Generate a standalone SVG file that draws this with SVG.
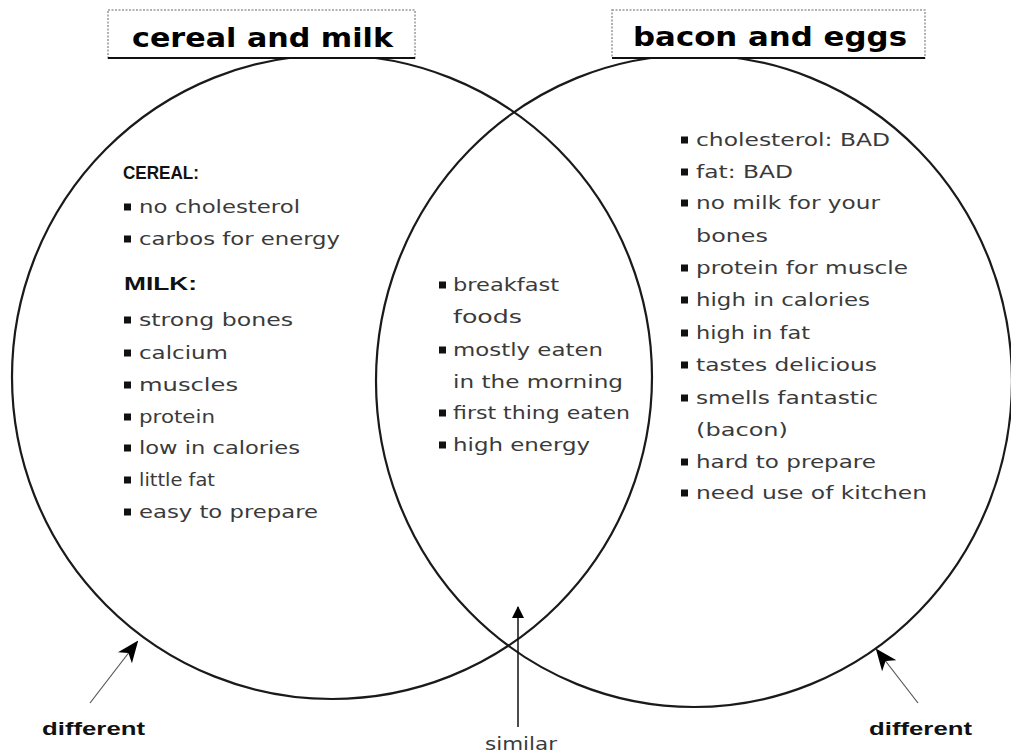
<svg xmlns="http://www.w3.org/2000/svg" width="1011" height="754" viewBox="0 0 1011 754">
<style>
.ring{fill:none;stroke:#1a1a1a;stroke-width:2.2}
.tbox{fill:#fff;stroke:#999;stroke-width:1.5;stroke-dasharray:2 1.5}
.tline{stroke:#111;stroke-width:2}
.title{font-family:"DejaVu Sans","Liberation Sans",sans-serif;font-weight:bold;font-size:27px;fill:#000}
.item{font-family:"DejaVu Sans","Liberation Sans",sans-serif;font-size:17px;fill:#3a3a3a}
.head{font-family:"Liberation Sans","DejaVu Sans",sans-serif;font-weight:bold;font-size:18px;fill:#111}
.b{fill:#111}
.conn{stroke:#555;stroke-width:1.2;fill:none}
.conn2{stroke:#111;stroke-width:1.5;fill:none}
</style>
<defs>
<marker id="big" markerWidth="22" markerHeight="18" refX="20" refY="9" orient="auto" markerUnits="userSpaceOnUse">
<path d="M0,0 L22,9 L0,18 L6,9 z" fill="#000"/>
</marker>
<marker id="small" markerWidth="12" markerHeight="12" refX="11" refY="6" orient="auto" markerUnits="userSpaceOnUse">
<path d="M0,0 L12,6 L0,12 z" fill="#000"/>
</marker>
</defs>
<rect width="1011" height="754" fill="#fff"/>
<g id="circle-left"><ellipse class="ring" cx="332" cy="377" rx="320" ry="322"/></g>
<g id="circle-right"><ellipse class="ring" cx="694" cy="381" rx="318" ry="326"/></g>
<g id="title-left">
<rect class="tbox" x="108" y="10" width="307" height="48"/>
<line class="tline" x1="108" y1="58" x2="415" y2="58"/>
<text class="title" x="132" y="47" textLength="261" lengthAdjust="spacingAndGlyphs">cereal and milk</text>
</g>
<g id="title-right">
<rect class="tbox" x="612" y="10" width="313" height="48"/>
<line class="tline" x1="612" y1="58" x2="925" y2="58"/>
<text class="title" x="633" y="46" textLength="274" lengthAdjust="spacingAndGlyphs">bacon and eggs</text>
</g>
<g id="list-left">
<text class="head" x="123" y="179" textLength="76" lengthAdjust="spacingAndGlyphs">CEREAL:</text>
<rect class="b" x="124" y="203.5" width="7" height="7"/><text class="item" x="139" y="213" textLength="161" lengthAdjust="spacingAndGlyphs">no cholesterol</text>
<rect class="b" x="124" y="235.5" width="7" height="7"/><text class="item" x="139" y="245" textLength="201" lengthAdjust="spacingAndGlyphs">carbos for energy</text>
<text class="head" x="124" y="290" textLength="73" lengthAdjust="spacingAndGlyphs">MILK:</text>
<rect class="b" x="124" y="316.5" width="7" height="7"/><text class="item" x="139" y="326" textLength="154" lengthAdjust="spacingAndGlyphs">strong bones</text>
<rect class="b" x="124" y="349.5" width="7" height="7"/><text class="item" x="139" y="359" textLength="89" lengthAdjust="spacingAndGlyphs">calcium</text>
<rect class="b" x="124" y="381.5" width="7" height="7"/><text class="item" x="139" y="391" textLength="99" lengthAdjust="spacingAndGlyphs">muscles</text>
<rect class="b" x="124" y="413.5" width="7" height="7"/><text class="item" x="139" y="423" textLength="76" lengthAdjust="spacingAndGlyphs">protein</text>
<rect class="b" x="124" y="444.5" width="7" height="7"/><text class="item" x="139" y="454" textLength="161" lengthAdjust="spacingAndGlyphs">low in calories</text>
<rect class="b" x="124" y="476.5" width="7" height="7"/><text class="item" x="139" y="486" textLength="76" lengthAdjust="spacingAndGlyphs">little fat</text>
<rect class="b" x="124" y="508.5" width="7" height="7"/><text class="item" x="139" y="518" textLength="179" lengthAdjust="spacingAndGlyphs">easy to prepare</text>
</g>
<g id="list-middle">
<rect class="b" x="439" y="281.5" width="7" height="7"/><text class="item" x="453" y="291" textLength="106" lengthAdjust="spacingAndGlyphs">breakfast</text>
<text class="item" x="453" y="323" textLength="69" lengthAdjust="spacingAndGlyphs">foods</text>
<rect class="b" x="439" y="346.5" width="7" height="7"/><text class="item" x="453" y="356" textLength="150" lengthAdjust="spacingAndGlyphs">mostly eaten</text>
<text class="item" x="453" y="388" textLength="170" lengthAdjust="spacingAndGlyphs">in the morning</text>
<rect class="b" x="439" y="409.5" width="7" height="7"/><text class="item" x="453" y="419" textLength="177" lengthAdjust="spacingAndGlyphs">first thing eaten</text>
<rect class="b" x="439" y="441.5" width="7" height="7"/><text class="item" x="453" y="451" textLength="137" lengthAdjust="spacingAndGlyphs">high energy</text>
</g>
<g id="list-right">
<rect class="b" x="681" y="136.5" width="7" height="7"/><text class="item" x="696" y="146" textLength="194" lengthAdjust="spacingAndGlyphs">cholesterol: BAD</text>
<rect class="b" x="681" y="168.5" width="7" height="7"/><text class="item" x="696" y="178" textLength="97" lengthAdjust="spacingAndGlyphs">fat: BAD</text>
<rect class="b" x="681" y="199.5" width="7" height="7"/><text class="item" x="696" y="209" textLength="184" lengthAdjust="spacingAndGlyphs">no milk for your</text>
<text class="item" x="696" y="242" textLength="72" lengthAdjust="spacingAndGlyphs">bones</text>
<rect class="b" x="681" y="264.5" width="7" height="7"/><text class="item" x="696" y="274" textLength="212" lengthAdjust="spacingAndGlyphs">protein for muscle</text>
<rect class="b" x="681" y="296.5" width="7" height="7"/><text class="item" x="696" y="306" textLength="174" lengthAdjust="spacingAndGlyphs">high in calories</text>
<rect class="b" x="681" y="329.5" width="7" height="7"/><text class="item" x="696" y="339" textLength="114" lengthAdjust="spacingAndGlyphs">high in fat</text>
<rect class="b" x="681" y="361.5" width="7" height="7"/><text class="item" x="696" y="371" textLength="181" lengthAdjust="spacingAndGlyphs">tastes delicious</text>
<rect class="b" x="681" y="394.5" width="7" height="7"/><text class="item" x="696" y="404" textLength="182" lengthAdjust="spacingAndGlyphs">smells fantastic</text>
<text class="item" x="696" y="436" textLength="92" lengthAdjust="spacingAndGlyphs">(bacon)</text>
<rect class="b" x="681" y="458.5" width="7" height="7"/><text class="item" x="696" y="468" textLength="180" lengthAdjust="spacingAndGlyphs">hard to prepare</text>
<rect class="b" x="681" y="489.5" width="7" height="7"/><text class="item" x="696" y="499" textLength="231" lengthAdjust="spacingAndGlyphs">need use of kitchen</text>
</g>
<g id="label-different-left"><text class="head" x="42" y="735" textLength="103" lengthAdjust="spacingAndGlyphs">different</text></g>
<g id="label-similar"><text class="item" x="485" y="750" font-size="15" textLength="72" lengthAdjust="spacingAndGlyphs">similar</text></g>
<g id="label-different-right"><text class="head" x="869" y="735" textLength="103" lengthAdjust="spacingAndGlyphs">different</text></g>
<g id="connectors">
<line class="conn" x1="90" y1="703" x2="137" y2="642" marker-end="url(#big)"/>
<line class="conn2" x1="518" y1="727" x2="518" y2="607" marker-end="url(#small)"/>
<line class="conn" x1="918" y1="703" x2="877" y2="650" marker-end="url(#big)"/>
</g>
</svg>
